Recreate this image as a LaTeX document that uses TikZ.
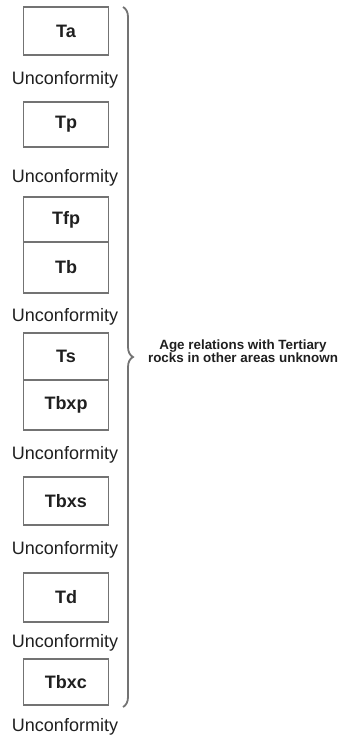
\documentclass[tikz,border=0pt]{standalone}
\usepackage{fontspec}
\setmainfont{Liberation Sans}
\usetikzlibrary{decorations.pathreplacing}
\definecolor{lineGray}{gray}{0.45}
\definecolor{inkBlack}{gray}{0.12}
\tikzset{
  unit box/.style={
    draw=lineGray,
    line width=0.9pt,
    minimum width=42.5pt,
    inner sep=0pt,
    text=inkBlack,
    font=\bfseries\fontsize{9}{10}\selectfont
  },
  gap label/.style={
    inner sep=0pt,
    text=inkBlack,
    font=\fontsize{9}{10}\selectfont
  }
}

\begin{document}
\begin{tikzpicture}[
    x=0.5pt, y=-0.5pt,
    note/.style={
      inner sep=0pt,
      align=center,
      text=inkBlack,
      font=\bfseries\fontsize{6.7}{6.5}\selectfont
    }
  ]
  \useasboundingbox (0,0) rectangle (341,738);

  % map units, top to bottom
  \foreach \name/\top/\bot in {Ta/7/55, Tp/102/147, Tfp/197/242, Tb/242/293,
      Ts/333/380, Tbxp/380/430, Tbxs/477/525, Td/573/622, Tbxc/659/705}{
    \node[unit box, minimum height={(\bot-\top)*0.5pt}]
      (\name) at (66,{(\top+\bot)/2}) {\name};
  }

  % unconformities
  \foreach \y [count=\k] in {80,178,317,455,550,643,727}{
    \node[gap label] (unc\k) at (65,\y) {Unconformity};
  }

  % brace
  \coordinate (braceTop) at (123,7);
  \coordinate (braceBot) at (123,707);
  \draw[lineGray, line width=0.9pt, decorate,
    decoration={brace, amplitude=5pt}] (braceTop) -- (braceBot);

  \node[note] (ageNote) at (243,351)
    {Age relations with Tertiary\\rocks in other areas unknown};
\end{tikzpicture}
\end{document}
